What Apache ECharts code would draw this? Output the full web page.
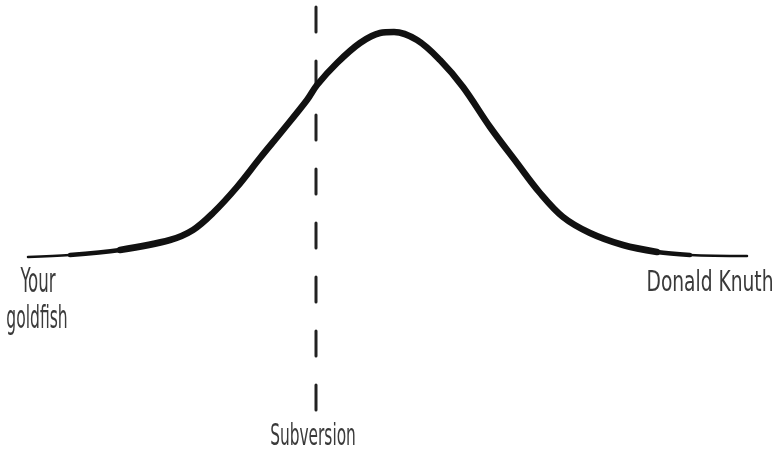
<!DOCTYPE html>
<html>
<head>
<meta charset="utf-8">
<script src="https://cdn.jsdelivr.net/npm/echarts@6/dist/echarts.min.js"></script>
<style>
html,body{margin:0;padding:0;background:#fff;}
#chart{width:777px;height:453px;}
</style>
</head>
<body>
<div id="chart"></div>
<script>
// Bell curve: skill position (x) and height (y)
const skillX = [28, 70, 120, 170, 193, 213, 237, 260, 283, 307, 317, 337, 360, 380, 394, 417, 440, 463, 490, 517, 540, 563, 590, 623, 657, 690, 747];
const curveY = [196, 198, 203, 213, 223, 240, 266, 295, 323, 353, 368, 390, 410, 420, 421, 413, 393, 366, 326, 290, 260, 236, 220, 208, 201, 198, 197];
// Vertical dashed marker: "Subversion"
const markerX = 316;
const markerY = [446, 41];
// Labels
const leftLabel = ['Your', 'goldfish'];
const rightLabel = 'Donald Knuth';
const markerLabel = 'Subversion';

const pts = skillX.map((x, i) => [x, curveY[i]]);

const chart = echarts.init(document.getElementById('chart'), null, {renderer: 'canvas'});
const FONT = '"DejaVu Sans Condensed", "Liberation Sans Narrow", "DejaVu Sans", sans-serif';

function txt(text, x, y, size, sx, align) {
  return {
    type: 'text', x: x, y: y, scaleX: sx, scaleY: 1,
    style: {text: text, fill: '#3a3a3a', font: '300 ' + size + 'px ' + FONT, textAlign: align || 'left', textVerticalAlign: 'top'}
  };
}

function curve(from, width, z) {
  return {type: 'line', data: pts.slice(from, pts.length - from), smooth: 0.35, symbol: 'none', clip: false,
          lineStyle: {color: '#111', width: width, cap: 'round'}, z: z};
}

chart.setOption({
  animation: false,
  backgroundColor: '#fff',
  grid: {left: 0, right: 0, top: 0, bottom: 0},
  xAxis: {type: 'value', min: 0, max: 777, show: false},
  yAxis: {type: 'value', min: 0, max: 453, show: false},
  series: [
    {type: 'line', data: [[markerX, markerY[0]], [markerX, markerY[1]]], symbol: 'none', clip: false,
     lineStyle: {color: '#222', width: 3, type: [25, 29], cap: 'round'}, z: 1},
    curve(0, 2.5, 2),
    curve(1, 4.5, 3),
    curve(2, 6.5, 4)
  ],
  graphic: [
    txt(leftLabel[0], 38, 267, 33, 0.56, 'center'),
    txt(leftLabel[1], 37, 304, 32, 0.54, 'center'),
    txt(rightLabel, 710, 270, 28, 0.74, 'center'),
    txt(markerLabel, 313, 422, 30, 0.57, 'center')
  ]
});
</script>
</body>
</html>
